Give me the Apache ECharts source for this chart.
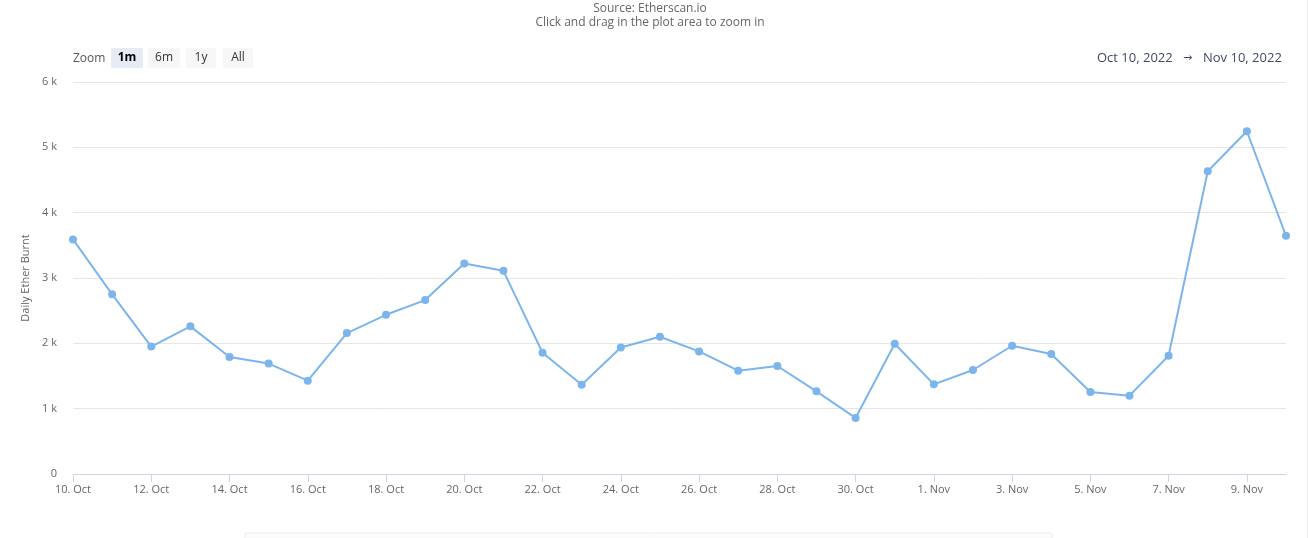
<!DOCTYPE html>
<html>
<head>
<meta charset="utf-8">
<script src="https://cdn.jsdelivr.net/npm/echarts@6/dist/echarts.min.js"></script>
<style>
html,body{margin:0;padding:0;background:#fff;}
#chart{width:1309px;height:538px;}
</style>
</head>
<body>
<div id="chart"></div>
<script>
const categories = [
  "10. Oct","11. Oct","12. Oct","13. Oct","14. Oct","15. Oct","16. Oct","17. Oct",
  "18. Oct","19. Oct","20. Oct","21. Oct","22. Oct","23. Oct","24. Oct","25. Oct",
  "26. Oct","27. Oct","28. Oct","29. Oct","30. Oct","31. Oct","1. Nov","2. Nov",
  "3. Nov","4. Nov","5. Nov","6. Nov","7. Nov","8. Nov","9. Nov","10. Nov"
];
const etherBurnt = [
  3590, 2750, 1950, 2260, 1790, 1690, 1428, 2157,
  2437, 2662, 3222, 3110, 1856, 1367, 1937, 2101,
  1876, 1581, 1653, 1265, 858, 1994, 1372, 1592,
  1963, 1836, 1255, 1199, 1810, 4634, 5246, 3645
];
const yTicks = [0, 1000, 2000, 3000, 4000, 5000, 6000];
const zoomButtons = ["1m", "6m", "1y", "All"];

const chart = echarts.init(document.getElementById('chart'), null, {renderer: 'canvas'});
const FONT = '"Open Sans", "DejaVu Sans", sans-serif';

const btnPos = [[111, 32], [148, 32], [186, 30], [223, 30]];
const graphics = [
  {type:'text', x:650, y:9, style:{text:'Source: Etherscan.io', fill:'#666', font:'12px ' + FONT, textAlign:'center', textVerticalAlign:'middle'}},
  {type:'text', x:650, y:23, style:{text:'Click and drag in the plot area to zoom in', fill:'#666', font:'12px ' + FONT, textAlign:'center', textVerticalAlign:'middle'}},
  {type:'text', x:73, y:59, style:{text:'Zoom', fill:'#555', font:'12px ' + FONT, textVerticalAlign:'middle'}},
  {type:'text', x:1097, y:58, style:{text:'Oct 10, 2022', fill:'#3e4a68', font:'13px ' + FONT, textVerticalAlign:'middle'}},
  {type:'text', x:1183, y:58, style:{text:'\u2192', fill:'#3e4a68', font:'11px ' + FONT, textVerticalAlign:'middle'}},
  {type:'text', x:1203, y:58, style:{text:'Nov 10, 2022', fill:'#3e4a68', font:'13px ' + FONT, textVerticalAlign:'middle'}},
  {type:'rect', shape:{x:245, y:533, width:807, height:8, r:2}, style:{fill:'#fbfbfb', stroke:'#ececec', lineWidth:1}},
  {type:'line', shape:{x1:1307.5, y1:0, x2:1307.5, y2:538}, style:{stroke:'#eeeeee', lineWidth:1}}
];
zoomButtons.forEach((b, i) => {
  const sel = i === 0;
  graphics.push({type:'rect', shape:{x:btnPos[i][0], y:48, width:btnPos[i][1], height:20, r:2},
    style:{fill: sel ? '#e6ebf5' : '#f7f7f7'}});
  graphics.push({type:'text', x:btnPos[i][0] + btnPos[i][1] / 2, y:58,
    style:{text:b, fill: sel ? '#000' : '#333', font:(sel ? 'bold ' : '') + '12px ' + FONT,
      textAlign:'center', textVerticalAlign:'middle'}});
});

chart.setOption({
  animation:false,
  textStyle:{fontFamily:FONT},
  graphic:graphics,
  grid:{left:73, right:23, top:82, bottom:64, containLabel:false},
  xAxis:{
    type:'category',
    data:categories,
    boundaryGap:false,
    axisLine:{lineStyle:{color:'#ccd6eb', width:1}},
    axisTick:{show:true, interval:1, length:8, lineStyle:{color:'#ccd6eb'}},
    axisLabel:{interval:1, color:'#666', fontSize:11, margin:10, fontFamily:FONT},
    splitLine:{show:false}
  },
  yAxis:{
    type:'value',
    min:yTicks[0],
    max:yTicks[yTicks.length - 1],
    interval:1000,
    name:'Daily Ether Burnt',
    nameLocation:'middle',
    nameGap:41,
    nameRotate:90,
    nameTextStyle:{color:'#666', fontSize:11, fontFamily:FONT},
    axisLine:{show:false},
    axisTick:{show:false},
    axisLabel:{color:'#666', fontSize:11, margin:16, fontFamily:FONT,
      formatter:v => v === 0 ? '0' : (v / 1000) + ' k'},
    splitLine:{lineStyle:{color:'#e6e6e6', width:1}}
  },
  series:[{
    type:'line',
    data:etherBurnt,
    symbol:'circle',
    symbolSize:8,
    showSymbol:true,
    lineStyle:{color:'#7cb5ec', width:2},
    itemStyle:{color:'#7cb5ec'}
  }]
});
</script>
</body>
</html>
